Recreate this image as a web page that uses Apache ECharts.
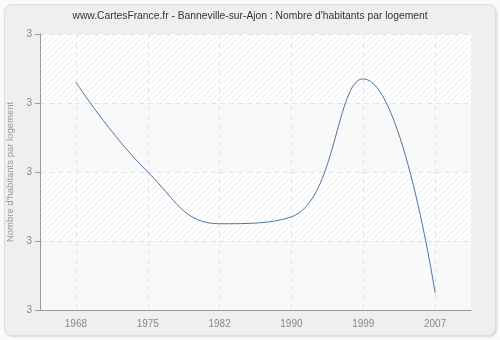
<!DOCTYPE html>
<html><head><meta charset="utf-8">
<script src="https://cdn.jsdelivr.net/npm/echarts@6/dist/echarts.min.js"></script>
<style>
html,body{margin:0;padding:0;background:#fafafa;}
#wrap{position:absolute;left:4px;top:4px;width:490px;height:330px;background:#efefef;border:1px solid #dedede;border-radius:8px;box-shadow:1px 1px 2px #d8d8d8;}
#c{position:absolute;left:0;top:0;width:500px;height:340px;}
</style></head>
<body>
<div id="wrap"></div>
<div id="c"></div>
<script>
const titleText = "www.CartesFrance.fr - Banneville-sur-Ajon : Nombre d'habitants par logement";
const yAxisName = "Nombre d'habitants par logement";
const years = ["1968", "1975", "1982", "1990", "1999", "2007"];
const values = [3.26, 3.0, 2.85, 2.87, 3.27, 2.65];

function hatch() {
  const cv = document.createElement('canvas');
  cv.width = 6; cv.height = 6;
  const ctx = cv.getContext('2d');
  ctx.fillStyle = '#ffffff';
  ctx.fillRect(0, 0, 6, 6);
  ctx.strokeStyle = '#ececec';
  ctx.lineWidth = 1;
  ctx.beginPath();
  ctx.moveTo(-1, 7); ctx.lineTo(7, -1);
  ctx.moveTo(-1, 1); ctx.lineTo(1, -1);
  ctx.moveTo(5, 7); ctx.lineTo(7, 5);
  ctx.stroke();
  return cv;
}

const FONT = 'Liberation Sans';
const chart = echarts.init(document.getElementById('c'), null, {renderer: 'canvas'});
chart.setOption({
  backgroundColor: 'transparent',
  animation: false,
  title: {
    text: titleText, left: 'center', top: 11, padding: [0, 0, 0, 22],
    textStyle: {fontSize: 10.3, fontWeight: 'normal', color: '#333', fontFamily: FONT}
  },
  grid: {
    left: 40, right: 29, top: 34, bottom: 30, show: true,
    outerBoundsMode: 'none', containLabel: false,
    backgroundColor: {image: hatch(), repeat: 'repeat'}, borderWidth: 0
  },
  xAxis: {
    type: 'category', data: years, boundaryGap: true,
    axisLine: {lineStyle: {color: '#999'}},
    axisTick: {alignWithLabel: true, length: 5, lineStyle: {color: '#999'}},
    axisLabel: {color: '#888', fontSize: 10, fontFamily: FONT, margin: 9},
    splitLine: {show: true, alignWithLabel: true, lineStyle: {color: '#e4e4e4', type: [5, 4]}}
  },
  yAxis: {
    type: 'value', min: 2.6, max: 3.4, interval: 0.2,
    name: yAxisName, nameLocation: 'middle', nameGap: 23, nameRotate: 90,
    nameTextStyle: {color: '#999', fontSize: 9.5, fontFamily: FONT},
    axisLine: {show: true, lineStyle: {color: '#999'}},
    axisTick: {show: true, length: 5, lineStyle: {color: '#999'}},
    axisLabel: {color: '#888', fontSize: 10, fontFamily: FONT, margin: 8,
      formatter: v => String(Math.round(v))},
    splitLine: {show: true, lineStyle: {color: '#e4e4e4', type: [5, 4]}},
    splitArea: {show: true, areaStyle: {color: ['rgba(248,248,248,0.9)', 'rgba(255,255,255,0)']}}
  },
  series: [{
    type: 'line', data: values, smooth: 0.45, symbol: 'none',
    lineStyle: {color: '#4a74aa', width: 1}
  }]
});
</script>
</body></html>
